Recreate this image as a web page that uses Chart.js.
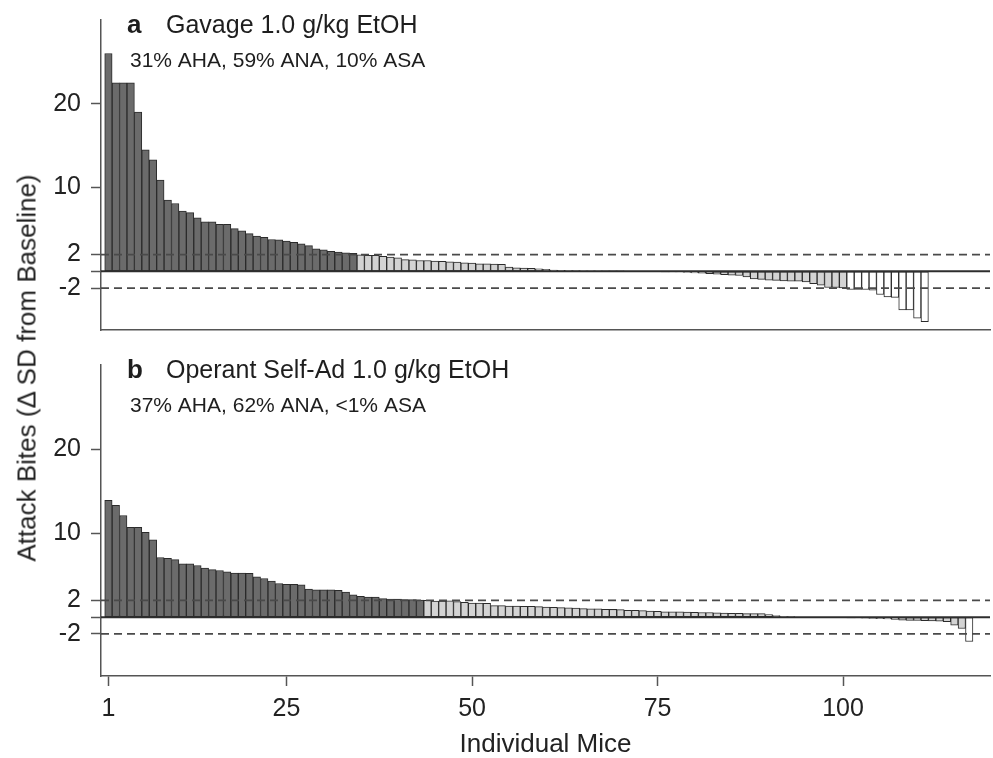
<!DOCTYPE html>
<html>
<head>
<meta charset="utf-8">
<title>Attack bites per mouse</title>
<script src="https://cdn.jsdelivr.net/npm/chart.js@4.4.1/dist/chart.umd.min.js"></script>
<style>
  html, body { margin: 0; padding: 0; background: #fff; }
  #page { position: relative; width: 993px; height: 758px; }
  .panel { position: absolute; left: 0; width: 993px; }
  #panelA { top: 0; height: 345px; }
  #panelB { top: 345px; height: 413px; }
  #yTitle {
    position: absolute; left: 27px; top: 368px;
    transform: translate(-50%, -50%) rotate(-90deg);
    white-space: nowrap; color: #222;
    font: 26px "Liberation Sans", Arial, sans-serif;
  }
</style>
</head>
<body>
<div id="page">
  <div class="panel" id="panelA"><canvas id="chartA"></canvas></div>
  <div class="panel" id="panelB"><canvas id="chartB"></canvas></div>
  <div id="yTitle">Attack Bites (Δ SD from Baseline)</div>
</div>
<script>
'use strict';

// Δ SD from baseline, one bar per mouse, sorted from highest to lowest
const gavageValues = [
    26.0, 22.5, 22.5, 22.5, 19.0, 14.5, 13.3, 10.9, 8.5, 8.1,
    7.2, 7.0, 6.4, 5.9, 5.9, 5.6, 5.6, 5.1, 4.85, 4.5,
    4.2, 4.05, 3.8, 3.75, 3.6, 3.45, 3.27, 3.08, 2.7, 2.56,
    2.4, 2.3, 2.2, 2.15, 1.98, 1.9, 1.9, 1.78, 1.7, 1.62,
    1.4, 1.38, 1.3, 1.3, 1.22, 1.2, 1.14, 1.1, 1.03, 0.99,
    0.9, 0.9, 0.87, 0.83, 0.51, 0.43, 0.4, 0.36, 0.3, 0.24,
    0.16, 0.12, 0.1, 0.08, 0.06, 0.05, 0.04, 0.03, 0.02, 0.01,
    0, 0, 0, 0, 0, -0.02, -0.05, -0.08, -0.12, -0.18,
    -0.22, -0.28, -0.35, -0.4, -0.45, -0.5, -0.65, -0.9, -0.95, -1.05,
    -1.07, -1.14, -1.18, -1.18, -1.26, -1.46, -1.66, -1.93, -1.93, -1.98,
    -2.17, -2.17, -2.17, -2.25, -2.76, -3.04, -3.1, -4.6, -4.6, -5.6,
    -6.0
];

const selfAdValues = [
    13.9, 13.3, 12.1, 10.7, 10.7, 10.1, 9.2, 7.1, 7.0, 6.85,
    6.35, 6.35, 6.15, 5.85, 5.65, 5.55, 5.4, 5.25, 5.25, 5.2,
    4.8, 4.6, 4.3, 4.0, 3.9, 3.9, 3.85, 3.35, 3.25, 3.25,
    3.25, 3.18, 2.98, 2.67, 2.47, 2.4, 2.4, 2.2, 2.16, 2.16,
    2.08, 2.08, 2.04, 1.99, 1.92, 1.92, 1.95, 1.84, 1.76, 1.69,
    1.69, 1.65, 1.37, 1.37, 1.33, 1.33, 1.29, 1.29, 1.25, 1.2,
    1.17, 1.14, 1.1, 1.08, 1.02, 1.0, 0.98, 0.94, 0.92, 0.9,
    0.82, 0.82, 0.78, 0.72, 0.7, 0.63, 0.63, 0.62, 0.59, 0.58,
    0.55, 0.55, 0.51, 0.5, 0.47, 0.46, 0.43, 0.43, 0.42, 0.31,
    0.2, 0.08, 0.03, 0, 0, 0, -0.02, -0.04, -0.05, -0.06,
    -0.08, -0.1, -0.12, -0.15, -0.18, -0.22, -0.28, -0.35, -0.38, -0.4,
    -0.42, -0.45, -0.48, -0.55, -0.95, -1.35, -2.9
];

const xTickValues = [1, 25, 50, 75, 100];
const yTickValues = [-2, 0, 2, 10, 20];
const thresholdLevels = [2, 0, -2];

const gavageText = ['a', 'Gavage 1.0 g/kg EtOH', '31% AHA, 59% ANA, 10% ASA'];
const selfAdText = ['b', 'Operant Self-Ad 1.0 g/kg EtOH', '37% AHA, 62% ANA, <1% ASA'];

const FONT = '"Liberation Sans", Arial, sans-serif';
const X_MIN = 0;
const X_MAX = 119.8;
const Y_MIN = -7;
const Y_MAX = 30;

Chart.defaults.font.family = FONT;
Chart.defaults.color = '#222';

// AHA above +2 SD, ASA below -2 SD, the rest ANA
function barColour(v) {
    if (v > 2) return '#6b6b6b';
    if (v < -2) return '#ffffff';
    return '#d3d3d3';
}

// panel letter, title and percentages written inside the plot area
const panelTitle = {
    id: 'panelTitle',
    afterDraw(chart, args, opts) {
        const { ctx, chartArea } = chart;
        const top = chartArea.top;
        ctx.save();
        ctx.fillStyle = '#1e1e1e';
        ctx.textAlign = 'left';
        ctx.textBaseline = 'alphabetic';
        ctx.font = 'bold 26px ' + FONT;
        ctx.fillText(opts.text[0], 127, top + 13);
        ctx.font = '25px ' + FONT;
        ctx.fillText(opts.text[1], 166, top + 13);
        ctx.font = '21px ' + FONT;
        ctx.fillText(opts.text[2], 130, top + 47);
        ctx.restore();
    }
};

function createPanel(canvasId, values, text, showXAxis) {
    const canvas = document.getElementById(canvasId);
    if (!canvas) {
        console.error(`Canvas ${canvasId} not found.`);
        return;
    }

    const lines = thresholdLevels.map(level => ({
        type: 'line',
        data: [{ x: X_MIN, y: level }, { x: X_MAX, y: level }],
        borderColor: level === 0 ? '#2e2e2e' : '#4a4a4a',
        borderWidth: level === 0 ? 2 : 1.8,
        borderDash: level === 0 ? [] : [8, 5],
        pointRadius: 0,
        order: 0
    }));

    new Chart(canvas, {
        type: 'bar',
        data: {
            datasets: [{
                data: values.map((v, i) => ({ x: i + 1, y: v })),
                backgroundColor: values.map(barColour),
                borderColor: '#2b2b2b',
                borderWidth: 1,
                borderSkipped: false,
                barPercentage: 1,
                categoryPercentage: 1,
                order: 1
            }, ...lines]
        },
        options: {
            responsive: true,
            maintainAspectRatio: false,
            animation: false,
            layout: { padding: { top: 20, right: 3, bottom: showXAxis ? 0 : 15, left: 0 } },
            plugins: {
                legend: { display: false },
                tooltip: { enabled: false },
                panelTitle: { text: text }
            },
            scales: {
                x: {
                    type: 'linear',
                    min: X_MIN,
                    max: X_MAX,
                    offset: false,
                    afterBuildTicks: scale => { scale.ticks = xTickValues.map(v => ({ value: v })); },
                    afterFit: scale => { scale.paddingLeft = 0; scale.paddingRight = 0; },
                    grid: {
                        display: showXAxis,
                        drawOnChartArea: false,
                        drawTicks: showXAxis,
                        tickLength: 10,
                        tickColor: '#555',
                        tickWidth: 1.5,
                        offset: false
                    },
                    border: { color: '#555', width: 1.5 },
                    ticks: {
                        display: showXAxis,
                        padding: 8,
                        font: { size: 25 },
                        maxRotation: 0,
                        autoSkip: false,
                        callback: v => String(v)
                    },
                    title: {
                        display: showXAxis,
                        text: 'Individual Mice',
                        font: { size: 26, lineHeight: 1 },
                        padding: { top: 0, bottom: 0 }
                    }
                },
                y: {
                    min: Y_MIN,
                    max: Y_MAX,
                    afterBuildTicks: scale => { scale.ticks = yTickValues.map(v => ({ value: v })); },
                    afterFit: scale => {
                        scale.width = 101;
                        scale.paddingTop = 0;
                        scale.paddingBottom = 0;
                    },
                    grid: { drawOnChartArea: false, tickLength: 10, tickColor: '#555', tickWidth: 1.5 },
                    border: { color: '#555', width: 1.5 },
                    ticks: {
                        padding: 10,
                        font: { size: 25 },
                        callback: v => (v === 0 ? '' : String(v))
                    }
                }
            }
        },
        plugins: [panelTitle]
    });
}

createPanel('chartA', gavageValues, gavageText, false);
createPanel('chartB', selfAdValues, selfAdText, true);
</script>
</body>
</html>
